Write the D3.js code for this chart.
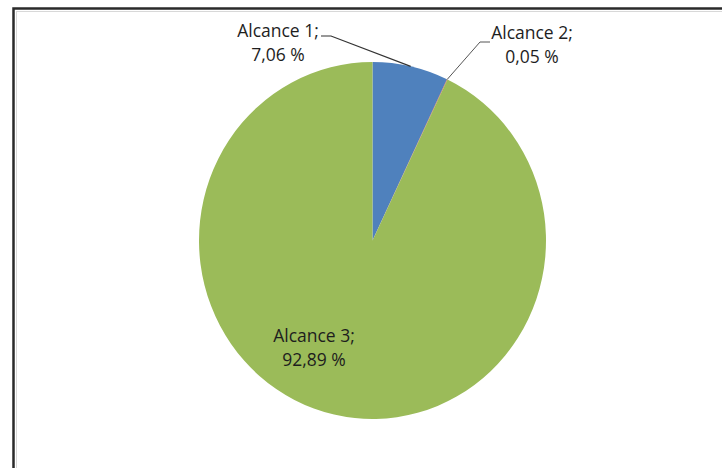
<!DOCTYPE html>
<html><head><meta charset="utf-8">
<script src="https://cdn.jsdelivr.net/npm/d3@7"></script>
<style>html,body{margin:0;padding:0;background:#fff;}svg{display:block;}</style>
</head><body>
<svg id="c" width="722" height="468"></svg>
<script>
const categories = ["Alcance 1", "Alcance 2", "Alcance 3"];
const values = [7.06, 0.05, 92.89];
const valueLabels = ["7,06 %", "0,05 %", "92,89 %"];
const colors = ["#4F81BD", "#C0504D", "#9BBB59"];

const svg = d3.select("#c");
// frame
svg.append("rect").attr("x", 0).attr("y", 0).attr("width", 722).attr("height", 468).attr("fill", "#fff");
svg.append("rect").attr("x", 13.5).attr("y", 8.5).attr("width", 740).attr("height", 500)
  .attr("fill", "#fff").attr("stroke", "#2a2a2a").attr("stroke-width", 2.5);
svg.append("rect").attr("x", 16.5).attr("y", 11.5).attr("width", 740).attr("height", 500)
  .attr("fill", "none").attr("stroke", "#d8d8d8").attr("stroke-width", 1);

const cx = 372.5, cy = 240.5, rx = 173.5, ry = 178.5;
const pie = d3.pie().sort(null).value(d => d)(values);
const arc = d3.arc().innerRadius(0).outerRadius(rx);
const g = svg.append("g").attr("transform", `translate(${cx},${cy}) scale(1,${ry / rx})`);
g.selectAll("path").data(pie).join("path")
  .attr("d", arc).attr("fill", (d, i) => colors[i]);

function pt(angle) { return [cx + rx * Math.sin(angle), cy - ry * Math.cos(angle)]; }

// leader lines
const mid0 = (pie[0].startAngle + pie[0].endAngle) / 2;
const p0 = pt(mid0);
const mid1 = (pie[1].startAngle + pie[1].endAngle) / 2;
const p1 = pt(mid1);
const line = d3.line();
svg.append("path").attr("d", line([[321, 36], [331, 36], p0]))
  .attr("fill", "none").attr("stroke", "#333").attr("stroke-width", 1.2);
svg.append("path").attr("d", line([[490, 42], [480, 42], p1]))
  .attr("fill", "none").attr("stroke", "#555").attr("stroke-width", 1);

const labelPos = [[278, 37], [532, 39], [314, 342]];
const font = "'Open Sans', sans-serif";
categories.forEach((c, i) => {
  const t = svg.append("text").attr("x", labelPos[i][0]).attr("y", labelPos[i][1])
    .attr("text-anchor", "middle").attr("font-family", font).attr("font-size", 17.5)
    .attr("fill", "#1e1e1e");
  t.append("tspan").attr("x", labelPos[i][0]).text(c + ";");
  t.append("tspan").attr("x", labelPos[i][0]).attr("dy", 24).text(valueLabels[i]);
});
</script>
</body></html>
